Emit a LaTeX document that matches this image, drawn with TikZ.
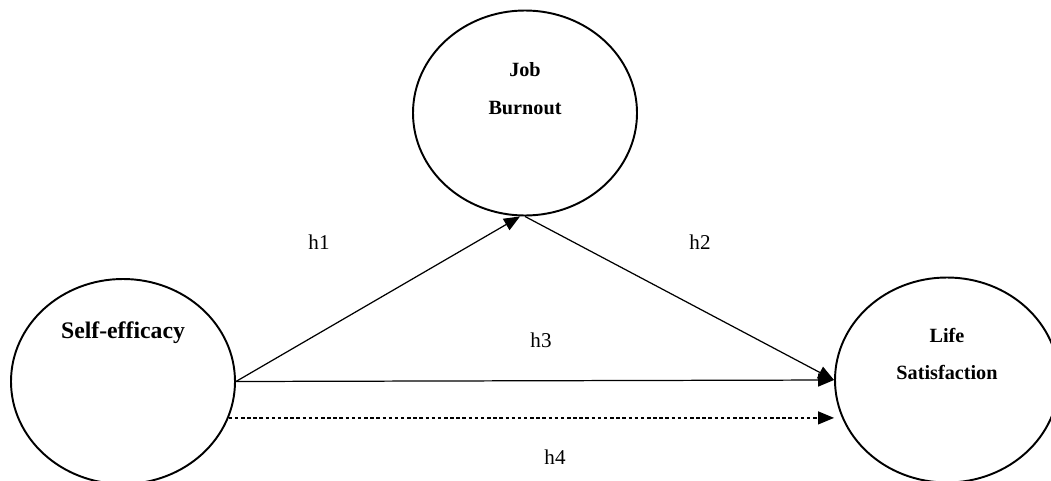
\documentclass[tikz,border=0pt]{standalone}
\usepackage{fontspec}
\setmainfont{Liberation Serif}
\usetikzlibrary{arrows.meta,shapes.geometric}

\begin{document}
\begin{tikzpicture}[>={Triangle[length=0.32cm,width=0.26cm]},
    construct/.style={draw, ellipse, line width=1.1pt, minimum width=4.48cm, minimum height=4.1cm, inner sep=0pt},
    cname/.style={font=\fontsize{11.5}{21.5}\selectfont\bfseries, align=center},
    link/.style={->, line width=0.7pt},
    hyp/.style={font=\fontsize{12}{14}\selectfont}]
        \useasboundingbox (0, 0) rectangle (21.02, 9.6);

        \node[construct] (burnout) at (10.5, 7.34) {};
        \node[construct] (efficacy) at (2.46, 1.97) {};
        \node[construct] (life) at (18.94, 2.0) {};

        \node[cname] (burnouttxt) at ([yshift=0.48cm]burnout.center) {Job\\Burnout};
        \node[cname, font=\fontsize{13.5}{16}\selectfont\bfseries] (efficacytxt) at ([yshift=0.98cm]efficacy.center) {Self-efficacy};
        \node[cname] (lifetxt) at ([yshift=0.52cm]life.center) {Life\\Satisfaction};

        \draw[link] (efficacy.east) -- ([xshift=-0.1cm]burnout.south);
        \draw[link] (burnout.south) -- (life.west);
        \draw[link] (efficacy.east) -- (life.west);
        \draw[link, dash pattern=on 2pt off 1.5pt] (efficacy.-19) -- (efficacy.-19 -| life.west);

        \node[hyp] (h1) at (6.38, 4.76) {h1};
        \node[hyp] (h2) at (14.0, 4.76) {h2};
        \node[hyp] (h3) at (10.82, 2.8) {h3};
        \node[hyp] (h4) at (11.1, 0.46) {h4};
      \end{tikzpicture}
\end{document}
